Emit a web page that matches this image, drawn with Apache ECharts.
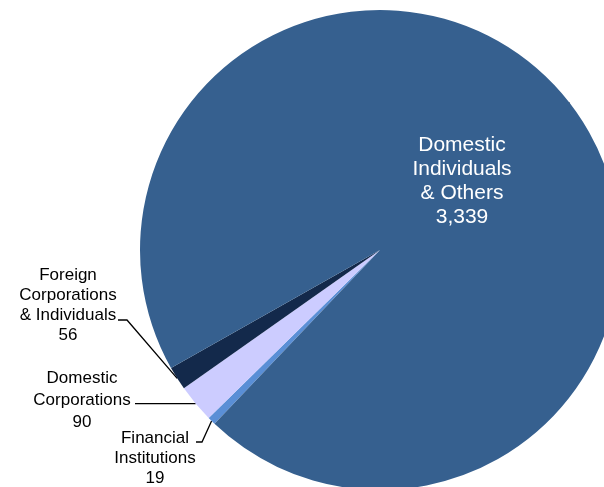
<!DOCTYPE html>
<html>
<head>
<meta charset="utf-8">
<script src="https://cdn.jsdelivr.net/npm/echarts@6/dist/echarts.min.js"></script>
<style>
  html, body { margin: 0; padding: 0; background: #ffffff; }
  #chart { width: 604px; height: 487px; }
</style>
</head>
<body>
<div id="chart"></div>
<script>
// Shareholder categories, in clockwise drawing order
const categories = [
  'Financial\nInstitutions',
  'Domestic\nCorporations',
  'Foreign\nCorporations\n& Individuals',
  'Domestic\nIndividuals\n& Others'
];
const shareholders = [19, 90, 56, 3339];
const sliceColors = ['#5a8fd6', '#ccccff', '#13294b', '#36608f'];

// Label placement: text anchor, line height, and elbow points for the leader lines
const labelSpots = [
  { x: 155, y: 428, lh: 20, size: 17, color: '#000', bends: [[202, 442], [196, 442]] },
  { x: 82,  y: 367, lh: 22, size: 17, color: '#000', bends: [[135, 'start']] },
  { x: 68,  y: 265, lh: 20, size: 17, color: '#000', bends: [[127, 320], [118, 320]] },
  { x: 462, y: 133, lh: 24, size: 21, color: '#fff', bends: null }
];

const chart = echarts.init(document.getElementById('chart'), null, { renderer: 'canvas' });

const seriesData = categories.map((name, i) => ({
  name: name,
  value: shareholders[i],
  itemStyle: { color: sliceColors[i] },
  label: {
    color: labelSpots[i].color,
    fontSize: labelSpots[i].size,
    lineHeight: labelSpots[i].lh
  }
}));

chart.setOption({
  animation: false,
  backgroundColor: '#ffffff',
  series: [{
    type: 'pie',
    center: [380, 250],
    radius: 240,
    startAngle: 226.4,
    clockwise: true,
    avoidLabelOverlap: false,
    data: seriesData,
    itemStyle: { borderWidth: 0 },
    label: {
      show: true,
      position: 'outside',
      fontFamily: 'Liberation Sans, Arial, sans-serif',
      align: 'center',
      formatter: p => p.name + '\n' + p.value.toLocaleString('en-US')
    },
    labelLine: {
      show: true,
      lineStyle: { color: '#000', width: 1.3 }
    },
    labelLayout: function (params) {
      const spot = labelSpots[params.dataIndex];
      const out = {
        x: spot.x,
        y: spot.y,
        align: 'center',
        verticalAlign: 'top',
        hideOverlap: false
      };
      if (spot.bends && params.labelLinePoints) {
        const start = params.labelLinePoints[0];
        const pts = [start];
        spot.bends.forEach(b => {
          pts.push([b[0], b[1] === 'start' ? start[1] : b[1]]);
        });
        out.labelLinePoints = pts;
      }
      return out;
    }
  }]
});
</script>
</body>
</html>
